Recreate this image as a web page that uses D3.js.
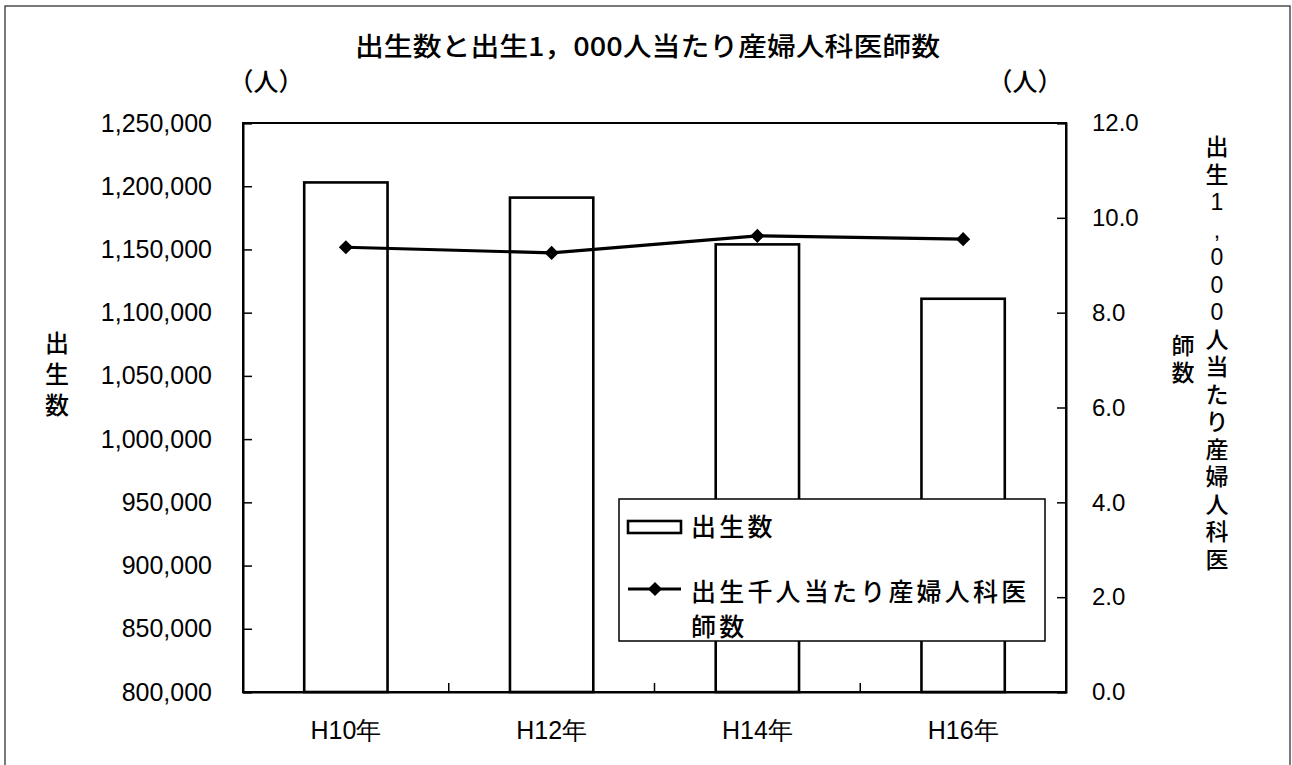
<!DOCTYPE html>
<html><head><meta charset="utf-8">
<script src="https://cdn.jsdelivr.net/npm/d3@7"></script>
<style>
html,body{margin:0;padding:0;background:#fff;}
svg text{fill:#000;}
</style></head>
<body>
<svg id="chart" width="1292" height="765"></svg>
<script>
// ---- data ----
const categories = ["H10年", "H12年", "H14年", "H16年"];
const births = [1203000, 1191000, 1154000, 1111000];
const obgynPer1000 = [9.38, 9.26, 9.62, 9.55];
const leftTicks = [800000, 850000, 900000, 950000, 1000000, 1050000, 1100000, 1150000, 1200000, 1250000];
const rightTicks = [0, 2, 4, 6, 8, 10, 12];
const title = "出生数と出生1，000人当たり産婦人科医師数";
const leftTitle = ["出", "生", "数"];
const rightTitleCol1 = ["出", "生", "1", ",", "0", "0", "0", "人", "当", "た", "り", "産", "婦", "人", "科", "医"];
const rightTitleCol2 = ["師", "数"];
const legendLabels = ["出生数", "出生千人当たり産婦人科医", "師数"];

// ---- layout ----
const svg = d3.select("#chart");
const L = 243, R = 1066, T = 123, B = 692;
const jp = "'Noto Sans CJK JP', 'Noto Sans', sans-serif";
const num = "'Liberation Sans', Arial, sans-serif";

// outer frame
svg.append("rect").attr("x", 5).attr("y", 6).attr("width", 1285).attr("height", 800)
  .attr("fill", "none").attr("stroke", "#333").attr("stroke-width", 1.3);

const x = d3.scaleBand().domain(categories).range([L, R]);
const yL = d3.scaleLinear().domain([800000, 1250000]).range([B, T]);
const yR = d3.scaleLinear().domain([0, 12]).range([B, T]);

// plot frame
svg.append("rect").attr("x", L).attr("y", T).attr("width", R - L).attr("height", B - T)
  .attr("fill", "none").attr("stroke", "#000").attr("stroke-width", 2);

// bars
const bw = x.bandwidth() * 0.405;
svg.append("g").selectAll("rect").data(categories).join("rect")
  .attr("x", d => x(d) + x.bandwidth() / 2 - bw / 2)
  .attr("y", (d, i) => yL(births[i]))
  .attr("width", bw)
  .attr("height", (d, i) => B - yL(births[i]))
  .attr("fill", "#fff").attr("stroke", "#000").attr("stroke-width", 2.6);

// left axis
const gl = svg.append("g").attr("transform", `translate(${L},0)`)
  .call(d3.axisLeft(yL).tickValues(leftTicks).tickSize(-9).tickPadding(31)
    .tickFormat(d3.format(",")));
gl.select(".domain").attr("stroke-width", 2);
gl.selectAll(".tick line").attr("stroke-width", 1.5);
gl.selectAll("text").attr("font-family", num).attr("font-size", 25);

// right axis
const gr = svg.append("g").attr("transform", `translate(${R},0)`)
  .call(d3.axisRight(yR).tickValues(rightTicks).tickSize(-9).tickPadding(26)
    .tickFormat(d3.format(".1f")));
gr.select(".domain").attr("stroke-width", 2);
gr.selectAll(".tick line").attr("stroke-width", 1.5);
gr.selectAll("text").attr("font-family", num).attr("font-size", 24);

// bottom axis labels
const gb = svg.append("g").attr("transform", `translate(0,${B})`)
  .call(d3.axisBottom(x).tickSize(0).tickPadding(29));
gb.select(".domain").attr("stroke-width", 2.2);
gb.selectAll("text").attr("font-family", num).attr("font-size", 25);
// category boundary ticks
svg.append("g").selectAll("line").data(categories.slice(1)).join("line")
  .attr("x1", d => x(d)).attr("x2", d => x(d))
  .attr("y1", B).attr("y2", B - 9)
  .attr("stroke", "#000").attr("stroke-width", 1.5);

// line series
const cx = (d) => x(d) + x.bandwidth() / 2;
const lineGen = d3.line().x((d, i) => cx(categories[i])).y(d => yR(d));
svg.append("path").datum(obgynPer1000).attr("d", lineGen)
  .attr("fill", "none").attr("stroke", "#000").attr("stroke-width", 3.2);
const diamond = d3.symbol(d3.symbolSquare, 100);
svg.append("g").selectAll("path").data(obgynPer1000).join("path")
  .attr("d", diamond)
  .attr("transform", (d, i) => `translate(${cx(categories[i])},${yR(d)}) rotate(45)`)
  .attr("fill", "#000");

// title
svg.append("text").attr("x", 355).attr("y", 56).attr("font-family", jp)
  .attr("font-size", 26).attr("font-weight", 500).attr("textLength", 585).attr("lengthAdjust", "spacingAndGlyphs")
  .text(title);

// unit labels
svg.append("text").attr("x", 266).attr("y", 91).attr("text-anchor", "middle")
  .attr("font-family", jp).attr("font-size", 25).attr("font-weight", 500).text("（人）");
svg.append("text").attr("x", 1025).attr("y", 91).attr("text-anchor", "middle")
  .attr("font-family", jp).attr("font-size", 25).attr("font-weight", 500).text("（人）");

// left axis title (vertical)
svg.append("g").selectAll("text").data(leftTitle).join("text")
  .attr("x", 57).attr("y", (d, i) => 343 + i * 31).attr("dy", "0.36em")
  .attr("text-anchor", "middle").attr("font-family", jp).attr("font-size", 24).attr("font-weight", 500)
  .text(d => d);

// right axis title (vertical, two columns)
svg.append("g").selectAll("text").data(rightTitleCol1).join("text")
  .attr("x", 1217).attr("y", (d, i) => 147 + i * 27.5).attr("dy", "0.36em")
  .attr("text-anchor", "middle")
  .attr("font-family", d => /[0-9,]/.test(d) ? num : jp).attr("font-size", 23).attr("font-weight", 500)
  .text(d => d);
svg.append("g").selectAll("text").data(rightTitleCol2).join("text")
  .attr("x", 1183).attr("y", (d, i) => 346 + i * 27).attr("dy", "0.36em")
  .attr("text-anchor", "middle").attr("font-family", jp).attr("font-size", 23).attr("font-weight", 500)
  .text(d => d);

// legend
const lg = svg.append("g");
lg.append("rect").attr("x", 619).attr("y", 499).attr("width", 426).attr("height", 142)
  .attr("fill", "#fff").attr("stroke", "#000").attr("stroke-width", 1.5);
lg.append("rect").attr("x", 628).attr("y", 521).attr("width", 53).attr("height", 12)
  .attr("fill", "#fff").attr("stroke", "#000").attr("stroke-width", 2.6);
lg.append("line").attr("x1", 628).attr("x2", 681).attr("y1", 589).attr("y2", 589)
  .attr("stroke", "#000").attr("stroke-width", 3);
lg.append("path").attr("d", diamond).attr("transform", "translate(655,589) rotate(45)").attr("fill", "#000");
const ly = [536, 601, 636];
lg.selectAll("text").data(legendLabels).join("text")
  .attr("x", 691).attr("y", (d, i) => ly[i])
  .attr("font-family", jp).attr("font-size", 25).attr("font-weight", 500).attr("letter-spacing", 3.2)
  .text(d => d);
</script>
</body></html>
